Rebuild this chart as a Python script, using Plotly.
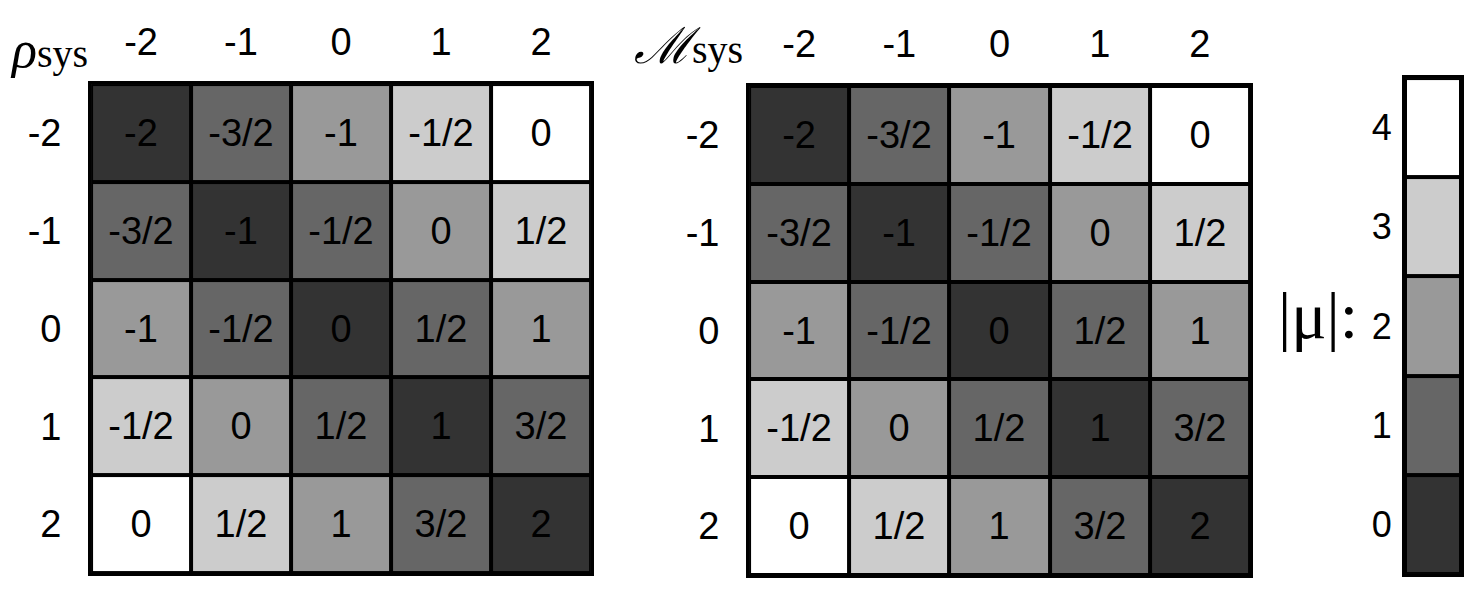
import plotly.graph_objects as go

# tick values along both axes of each grid
positions = [-2, -1, 0, 1, 2]

# cell labels (row = first index, column = second index)
cell_labels = [
    ["-2", "-3/2", "-1", "-1/2", "0"],
    ["-3/2", "-1", "-1/2", "0", "1/2"],
    ["-1", "-1/2", "0", "1/2", "1"],
    ["-1/2", "0", "1/2", "1", "3/2"],
    ["0", "1/2", "1", "3/2", "2"],
]

# |mu| for each cell, sets the grey level
mu_values = [
    [0, 1, 2, 3, 4],
    [1, 0, 1, 2, 3],
    [2, 1, 0, 1, 2],
    [3, 2, 1, 0, 1],
    [4, 3, 2, 1, 0],
]

# legend levels
mu_levels = [0, 1, 2, 3, 4]

greys = [[0, "#333333"], [0.25, "#666666"], [0.5, "#999999"], [0.75, "#cccccc"], [1, "#ffffff"]]
font_main = "Liberation Sans, Arial, sans-serif"
serif = "Liberation Serif, DejaVu Serif, serif"

fig = go.Figure()

for ax in ["", "2"]:
    fig.add_trace(go.Heatmap(
        x=positions, y=positions, z=mu_values, text=cell_labels,
        texttemplate="%{text}", textfont=dict(size=38, color="black", family=font_main),
        colorscale=greys, zmin=0, zmax=4, showscale=False, xgap=4, ygap=4,
        xaxis="x" + ax, yaxis="y" + ax, hoverinfo="skip",
    ))

# legend bar as a one-column heatmap
fig.add_trace(go.Heatmap(
    x=[0], y=mu_levels, z=[[v] for v in mu_levels],
    colorscale=greys, zmin=0, zmax=4, showscale=False, xgap=4, ygap=4,
    xaxis="x3", yaxis="y3", hoverinfo="skip",
))

grid_x = dict(side="top", tickvals=positions, ticktext=[str(p) for p in positions],
              tickfont=dict(size=38, family=font_main, color="black"),
              showgrid=False, zeroline=False, showline=True, linecolor="black", linewidth=3,
              mirror=True, ticks="outside", ticklen=11, tickcolor="rgba(0,0,0,0)")
grid_y = dict(tickvals=positions, ticktext=[str(p) for p in positions], autorange="reversed",
              tickfont=dict(size=38, family=font_main, color="black"),
              showgrid=False, zeroline=False, showline=True, linecolor="black", linewidth=3,
              mirror=True, ticks="outside", ticklen=19, tickcolor="rgba(0,0,0,0)")

fig.update_layout(
    width=1480, height=600, margin=dict(l=0, r=0, t=0, b=0),
    paper_bgcolor="white", plot_bgcolor="black",
    xaxis=dict(grid_x, domain=[0.0561, 0.3939], anchor="y"),
    yaxis=dict(grid_y, domain=[0.0583, 0.8733], anchor="x"),
    xaxis2=dict(grid_x, domain=[0.5007, 0.8392], anchor="y2"),
    yaxis2=dict(grid_y, domain=[0.055, 0.87], anchor="x2"),
    xaxis3=dict(domain=[0.9439, 0.9818], anchor="y3", showticklabels=False, showgrid=False,
                zeroline=False, showline=True, linecolor="black", linewidth=3, mirror=True),
    yaxis3=dict(domain=[0.0567, 0.8833], anchor="x3", type="linear", tickmode="array",
                tickvals=mu_levels, ticktext=[str(v) for v in mu_levels],
                tickfont=dict(size=36, family=font_main, color="black"),
                showgrid=False, zeroline=False, showline=True, linecolor="black", linewidth=3,
                mirror=True, ticks="outside", ticklen=3, tickcolor="rgba(0,0,0,0)"),
    showlegend=False,
)

fig.add_annotation(text="<i>ρ</i><span style='font-size:40px'>sys</span>",
                   x=0.0277, y=0.93, xref="paper", yref="paper", showarrow=False,
                   xanchor="center", yanchor="middle",
                   font=dict(size=52, family=serif, color="black"))
fig.add_annotation(text="<i>ℳ</i><span style='font-size:40px;font-family:Liberation Serif'>sys</span>",
                   x=0.4595, y=0.936, xref="paper", yref="paper", showarrow=False,
                   xanchor="center", yanchor="middle",
                   font=dict(size=50, family="DejaVu Serif, serif", color="black"))
fig.add_annotation(text="|μ|:", x=0.8851, y=0.488, xref="paper", yref="paper",
                   showarrow=False, xanchor="center", yanchor="middle",
                   font=dict(size=66, family=serif, color="black"))

fig.write_html("out.html")
